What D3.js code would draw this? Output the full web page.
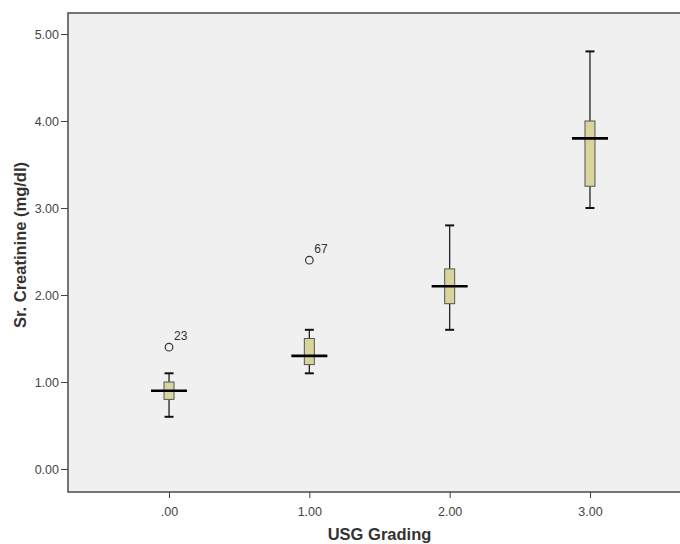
<!DOCTYPE html>
<html>
<head>
<meta charset="utf-8">
<script src="https://cdn.jsdelivr.net/npm/d3@7"></script>
<style>
  html, body { margin: 0; padding: 0; background: #fff; overflow: hidden; }
  svg { display: block; overflow: hidden; }
  text { font-family: Arial, "Liberation Sans", sans-serif; }
</style>
</head>
<body>
<div id="chart"></div>
<script>
// ---- data ----
const categories = [".00", "1.00", "2.00", "3.00"];
const whiskerLow = [0.6, 1.1, 1.6, 3.0];
const q1 = [0.8, 1.2, 1.9, 3.25];
const median = [0.9, 1.3, 2.1, 3.8];
const q3 = [1.0, 1.5, 2.3, 4.0];
const whiskerHigh = [1.1, 1.6, 2.8, 4.8];
const outlierCategory = [".00", "1.00"];
const outlierValue = [1.4, 2.4];
const outlierLabel = ["23", "67"];
const yTicks = [0, 1, 2, 3, 4, 5];
const xTitle = "USG Grading";
const yTitle = "Sr. Creatinine (mg/dl)";

// ---- layout ----
const W = 680, H = 544;
const frame = { left: 68, right: 691, top: 13, bottom: 492 };

const svg = d3.select("#chart").append("svg")
  .attr("width", W).attr("height", H);

const x = d3.scalePoint()
  .domain(categories)
  .range([frame.left, frame.right])
  .padding(0.72);

const y = d3.scaleLinear()
  .domain([0, 5])
  .range([469, 34]);

// plot background (frame continues past the right edge of the picture)
svg.append("rect")
  .attr("x", frame.left).attr("y", frame.top)
  .attr("width", W - frame.left)
  .attr("height", frame.bottom - frame.top)
  .attr("fill", "#f0f0f0");
svg.append("path")
  .attr("d", `M${W},${frame.top}H${frame.left}V${frame.bottom}H${W}`)
  .attr("fill", "none")
  .attr("stroke", "#4a4a4a")
  .attr("stroke-width", 1.5);

// y axis
const yAxis = d3.axisLeft(y)
  .tickValues(yTicks)
  .tickFormat(d3.format(".2f"))
  .tickSize(7)
  .tickPadding(2);
const gy = svg.append("g")
  .attr("transform", `translate(${frame.left},0)`)
  .call(yAxis);
gy.select(".domain").remove();
gy.selectAll(".tick line").attr("stroke", "#444");
gy.selectAll(".tick text")
  .attr("fill", "#444")
  .style("font-size", "12.5px")
  .style("font-family", "Arial, 'Liberation Sans', sans-serif");

// x axis
const xAxis = d3.axisBottom(x)
  .tickSize(6)
  .tickPadding(9);
const gx = svg.append("g")
  .attr("transform", `translate(0,${frame.bottom})`)
  .call(xAxis);
gx.select(".domain").remove();
gx.selectAll(".tick line").attr("stroke", "#444");
gx.selectAll(".tick text")
  .attr("fill", "#444")
  .style("font-size", "12.5px")
  .style("font-family", "Arial, 'Liberation Sans', sans-serif");

// boxes
const data = categories.map((c, i) => ({
  c, lo: whiskerLow[i], q1: q1[i], med: median[i], q3: q3[i], hi: whiskerHigh[i]
}));

const boxW = 10, capW = 9, medW = 36;
const g = svg.append("g");
const grp = g.selectAll("g.box").data(data).join("g").attr("class", "box");

// whisker stems
grp.append("line")
  .attr("x1", d => x(d.c)).attr("x2", d => x(d.c))
  .attr("y1", d => y(d.hi)).attr("y2", d => y(d.q3))
  .attr("stroke", "#222").attr("stroke-width", 1.3);
grp.append("line")
  .attr("x1", d => x(d.c)).attr("x2", d => x(d.c))
  .attr("y1", d => y(d.q1)).attr("y2", d => y(d.lo))
  .attr("stroke", "#222").attr("stroke-width", 1.3);
// caps
grp.append("line")
  .attr("x1", d => x(d.c) - capW / 2).attr("x2", d => x(d.c) + capW / 2)
  .attr("y1", d => y(d.hi)).attr("y2", d => y(d.hi))
  .attr("stroke", "#111").attr("stroke-width", 2);
grp.append("line")
  .attr("x1", d => x(d.c) - capW / 2).attr("x2", d => x(d.c) + capW / 2)
  .attr("y1", d => y(d.lo)).attr("y2", d => y(d.lo))
  .attr("stroke", "#111").attr("stroke-width", 2);
// box
grp.append("rect")
  .attr("x", d => x(d.c) - boxW / 2)
  .attr("width", boxW)
  .attr("y", d => y(d.q3))
  .attr("height", d => y(d.q1) - y(d.q3))
  .attr("fill", "#d8d49c")
  .attr("stroke", "#555")
  .attr("stroke-width", 1);
// median
grp.append("line")
  .attr("x1", d => x(d.c) - medW / 2).attr("x2", d => x(d.c) + medW / 2)
  .attr("y1", d => y(d.med)).attr("y2", d => y(d.med))
  .attr("stroke", "#000").attr("stroke-width", 2.6);

// outliers
const outs = outlierCategory.map((c, i) => ({ c, v: outlierValue[i], label: outlierLabel[i] }));
g.selectAll("circle.out").data(outs).join("circle")
  .attr("class", "out")
  .attr("cx", d => x(d.c)).attr("cy", d => y(d.v))
  .attr("r", 3.8)
  .attr("fill", "none")
  .attr("stroke", "#333")
  .attr("stroke-width", 1.2);
g.selectAll("text.outlab").data(outs).join("text")
  .attr("class", "outlab")
  .attr("x", d => x(d.c) + 5)
  .attr("y", d => y(d.v) - 7)
  .attr("fill", "#333")
  .style("font-size", "12px")
  .text(d => d.label);

// axis titles
svg.append("text")
  .attr("x", (frame.left + frame.right) / 2)
  .attr("y", 540)
  .attr("text-anchor", "middle")
  .attr("fill", "#333")
  .style("font-size", "16.5px")
  .style("font-weight", "bold")
  .text(xTitle);

svg.append("text")
  .attr("transform", `translate(26,245) rotate(-90)`)
  .attr("text-anchor", "middle")
  .attr("fill", "#333")
  .style("font-size", "16.5px")
  .style("font-weight", "bold")
  .text(yTitle);
</script>
</body>
</html>
